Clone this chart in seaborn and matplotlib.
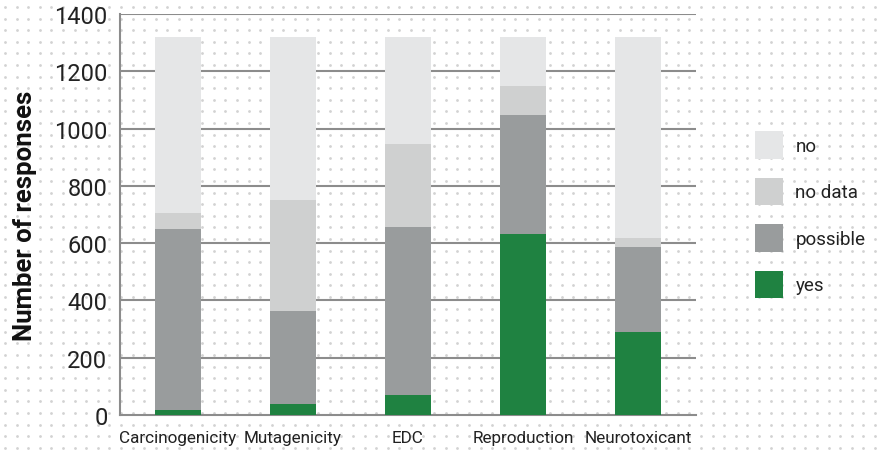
import numpy as np
import pandas as pd
import seaborn as sns
import matplotlib.pyplot as plt
from matplotlib.patches import Patch

categories = ["Carcinogenicity", "Mutagenicity", "EDC", "Reproduction", "Neurotoxicant"]
yes = [18, 37, 70, 632, 290]
possible = [631, 327, 586, 415, 297]
no_data = [56, 387, 290, 102, 31]
no = [615, 569, 374, 171, 702]

series = ["yes", "possible", "no data", "no"]
colors = {"yes": "#1f8241", "possible": "#999c9d", "no data": "#cfd0d0", "no": "#e5e6e7"}

df = pd.DataFrame({"category": categories, "yes": yes, "possible": possible,
                   "no data": no_data, "no": no})
# cumulative tops for stacking
cum = df[series].cumsum(axis=1)
cum["category"] = df["category"]

sns.set_style("white")
plt.rcParams["font.family"] = ["Roboto", "DejaVu Sans"]

fig = plt.figure(figsize=(8.77, 4.52), dpi=100)

# dotted background
bg = fig.add_axes([0, 0, 1, 1], zorder=-1)
gx, gy = np.meshgrid(np.arange(5, 877, 11.6), np.arange(8, 452, 11.6))
bg.scatter(gx.ravel(), gy.ravel(), s=4, color="#d2d2d2", linewidths=0)
bg.set_xlim(0, 877)
bg.set_ylim(452, 0)
bg.axis("off")

ax = fig.add_axes([120 / 877, 36 / 452, 576 / 877, 401 / 452])
ax.set_facecolor("none")

for s in reversed(series):
    sns.barplot(data=cum, x="category", y=s, color=colors[s], width=0.4,
                saturation=1, linewidth=0, ax=ax, zorder=3)

grid_c = "#8c8c8c"
ax.set_ylim(0, 1400)
ax.set_xlim(-0.5, 4.5)
ax.set_yticks(range(0, 1401, 200))
for yv in range(200, 1401, 200):
    ax.axhline(yv, color=grid_c, lw=1.5, zorder=1)
for side in ["top", "right"]:
    ax.spines[side].set_visible(False)
for side in ["left", "bottom"]:
    ax.spines[side].set_color(grid_c)
    ax.spines[side].set_linewidth(1.5)

ax.set_xticks(np.arange(-0.5, 5, 1), minor=True)
ax.tick_params(axis="x", which="major", length=0, labelsize=12.3, pad=11, labelcolor="#222222")
ax.tick_params(axis="x", which="minor", length=5, width=1.5, color=grid_c, direction="out")
ax.tick_params(axis="y", length=5, width=1.5, color=grid_c, direction="out",
               labelsize=17, pad=4, labelcolor="#222222")
ax.set_xlabel("")
ax.set_ylabel("Number of responses", fontsize=18.5, fontweight="bold", labelpad=12, color="#111111")

handles = [Patch(facecolor=colors[s], edgecolor="none", label=s) for s in ["no", "no data", "possible", "yes"]]
fig.legend(handles=handles, loc="upper left", bbox_to_anchor=(755 / 877, 1 - 132 / 452), frameon=False,
           borderpad=0, borderaxespad=0, handlelength=1.5, handleheight=1.9, labelspacing=1.0,
           handletextpad=0.65, fontsize=13.5, labelcolor="#222222")

fig.savefig("out.png", dpi=100)
